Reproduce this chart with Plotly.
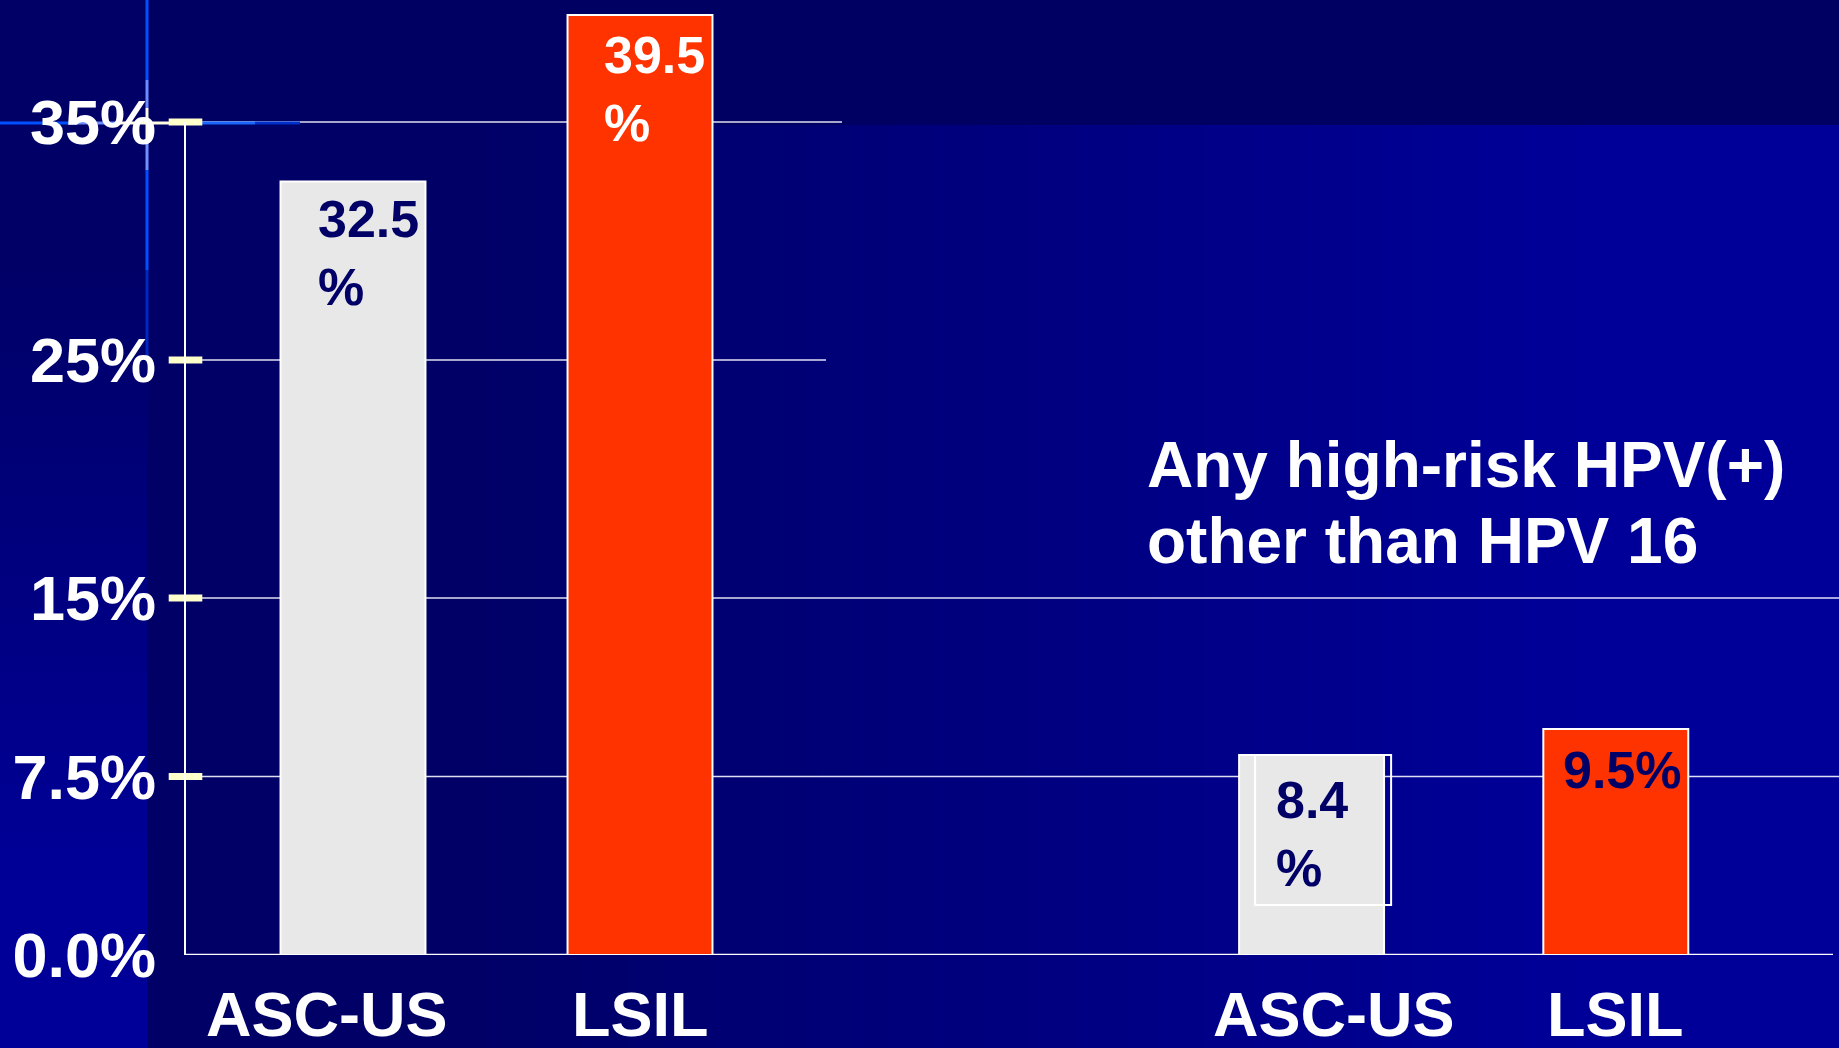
import plotly.graph_objects as go

# ---- data -------------------------------------------------------------
categories = ["ASC-US", "LSIL"]
any_hr_hpv = [32.5, 39.5]            # left pair
other_than_16 = [8.4, 9.5]           # right pair
labels_left = ["32.5<br>%", "39.5<br>%"]
labels_right = ["8.4<br>%", "9.5%"]
y_tickvals = [0, 7.5, 15, 25, 35]
y_ticktext = ["0.0%", "7.5%", "15%", "25%", "35%"]
note_lines = ["Any high-risk HPV(+)", "other than HPV 16"]

# ---- geometry / style ----------------------------------------------------
W, H = 1839, 1048
ML, MR, MT, MB = 184, 0, 0, 93
PW, PH = W - ML - MR, H - MT - MB
PX_PER_PCT = 23.8
SLOT = 287.0
X_MIN = -169.0 / SLOT
X_MAX = X_MIN + PW / SLOT
POS_LEFT = [0.0, 1.0]
POS_RIGHT = [3.34, 4.40]
BAR_W = 0.505
CAT_SHIFT = [-26, 0, 22, 0]          # small horizontal nudges of the category captions

GRAY = "#E8E8E8"
ORANGE = "#FF3300"
NAVY = "#000066"
CREAM = "#FFFFCC"
FONT = "Liberation Sans, Arial, Helvetica, sans-serif"


def px(xpix):
    return (xpix - ML) / PW


def py(ypix):
    return (H - MB - ypix) / PH


def lerp_blue(t):
    t = max(0.0, min(1.0, t))
    b = int(round(0x66 + t * (0x99 - 0x66)))
    return f"rgb(0,0,{b})"


shapes = []

# slide background: left strip with vertical shading
step = 16
for y0 in range(0, H, step):
    t = (y0 + step / 2 - 250) / 650
    shapes.append(dict(type="rect", xref="paper", yref="paper", layer="below",
                       x0=px(0), x1=px(148), y0=py(y0), y1=py(min(H, y0 + step) + 1),
                       fillcolor=lerp_blue(t), line_width=0))
# top band
shapes.append(dict(type="rect", xref="paper", yref="paper", layer="below",
                   x0=px(147), x1=px(W), y0=py(0), y1=py(125),
                   fillcolor="#000062", line_width=0))
# body with horizontal shading
for x0 in range(147, W, step):
    t = (x0 + step / 2 - 450) / 1150
    shapes.append(dict(type="rect", xref="paper", yref="paper", layer="below",
                       x0=px(x0), x1=px(min(W, x0 + step) + 1), y0=py(125), y1=py(H),
                       fillcolor=lerp_blue(t), line_width=0))

# gridlines (partial, as on the slide)
GRID = "rgba(235,235,250,0.95)"
grid_extent = {35: 842, 25: 826, 15: W, 7.5: W, 0: 1833}
for val, xend in grid_extent.items():
    shapes.append(dict(type="line", xref="paper", yref="y", layer="below",
                       x0=0, x1=px(xend), y0=val, y1=val,
                       line=dict(color="white" if val == 0 else GRID,
                                 width=2.5 if val == 0 else 1.6)))

# value axis line
shapes.append(dict(type="line", xref="paper", yref="y", layer="above",
                   x0=px(185), x1=px(185), y0=0, y1=max(y_tickvals),
                   line=dict(color="white", width=2)))

# decorative light streaks of the template
glow_v = [(0, 80, "#0050ff"), (80, 108, "#6a8cff"), (108, 140, "#fffbe0"),
          (140, 170, "#7090ff"), (170, 270, "#0050ff"), (270, 360, "#0028c0")]
for a, b, c in glow_v:
    shapes.append(dict(type="line", xref="paper", yref="paper", layer="below",
                       x0=px(147), x1=px(147), y0=py(a), y1=py(b),
                       line=dict(color=c, width=3)))
glow_h = [(0, 75, "#0050ff"), (75, 118, "#6a8cff"), (118, 172, "#fffbe0"),
          (200, 255, "#1a66ff"), (255, 300, "#0030cc")]
for a, b, c in glow_h:
    shapes.append(dict(type="line", xref="paper", yref="paper", layer="below",
                       x0=px(a), x1=px(b), y0=py(123), y1=py(123),
                       line=dict(color=c, width=3)))

# framed text box around the 8.4 % label
shapes.append(dict(type="rect", layer="above",
                   xref="x", xsizemode="pixel", xanchor=POS_RIGHT[0] - BAR_W / 2,
                   x0=16, x1=152,
                   yref="y", ysizemode="pixel", yanchor=other_than_16[0],
                   y0=0, y1=-150,
                   line=dict(color="white", width=2), fillcolor="rgba(0,0,0,0)"))

fig = go.Figure()

bar_line = dict(color="white", width=2)
fig.add_trace(go.Bar(x=[POS_LEFT[0], POS_RIGHT[0]], y=[any_hr_hpv[0], other_than_16[0]],
                     width=BAR_W, marker=dict(color=GRAY, line=bar_line),
                     name=categories[0], hoverinfo="skip"))
fig.add_trace(go.Bar(x=[POS_LEFT[1], POS_RIGHT[1]], y=[any_hr_hpv[1], other_than_16[1]],
                     width=BAR_W, marker=dict(color=ORANGE, line=bar_line),
                     name=categories[1], hoverinfo="skip"))

# short cream tick marks crossing the value axis (none at the baseline)
tick_marks = [v for v in y_tickvals if v > 0]
fig.add_trace(go.Scatter(x=[X_MIN + 1.5 / SLOT] * len(tick_marks), y=tick_marks,
                         mode="markers", cliponaxis=False, hoverinfo="skip",
                         marker=dict(symbol="line-ew", size=24,
                                     line=dict(color=CREAM, width=7))))

annotations = []
label_specs = [
    (POS_LEFT[0], any_hr_hpv[0], labels_left[0], NAVY, 35, -6),
    (POS_LEFT[1], any_hr_hpv[1], labels_left[1], "white", 34, -9),
    (POS_RIGHT[0], other_than_16[0], labels_right[0], NAVY, 35, -14),
    (POS_RIGHT[1], other_than_16[1], labels_right[1], NAVY, 18, -10),
]
for xpos, val, txt, col, dx, dy in label_specs:
    annotations.append(dict(x=xpos - BAR_W / 2, y=val, xref="x", yref="y",
                            text=txt, showarrow=False, align="left",
                            xanchor="left", yanchor="top", xshift=dx, yshift=dy,
                            font=dict(family=FONT, size=52, color=col, weight="bold")))

# category captions under each bar
for xpos, cat, dx in zip(POS_LEFT + POS_RIGHT, categories + categories, CAT_SHIFT):
    annotations.append(dict(x=xpos, y=0, xref="x", yref="y", text=cat,
                            showarrow=False, xanchor="center", yanchor="top",
                            xshift=dx, yshift=-22,
                            font=dict(family=FONT, size=63, color="white", weight="bold")))

for i, line in enumerate(note_lines):
    annotations.append(dict(x=px(1145), y=py(427 + i * 76), xref="paper", yref="paper",
                            text=line, showarrow=False, align="left",
                            xanchor="left", yanchor="top",
                            font=dict(family=FONT, size=64, color="white", weight="bold")))

fig.update_layout(
    width=W, height=H,
    margin=dict(l=ML, r=MR, t=MT, b=MB, pad=0),
    paper_bgcolor=NAVY, plot_bgcolor="rgba(0,0,0,0)",
    showlegend=False, barmode="overlay",
    shapes=shapes, annotations=annotations,
    xaxis=dict(range=[X_MIN, X_MAX], showgrid=False, zeroline=False, showline=False,
               showticklabels=False, ticks="", automargin=False),
    yaxis=dict(range=[0, PH / PX_PER_PCT], showgrid=False, zeroline=False, showline=False,
               tickvals=y_tickvals, ticktext=y_ticktext, ticks="",
               ticklabelstandoff=27, automargin=False,
               tickfont=dict(family=FONT, size=63, color="white", weight="bold")),
)

fig.write_html("out.html")
